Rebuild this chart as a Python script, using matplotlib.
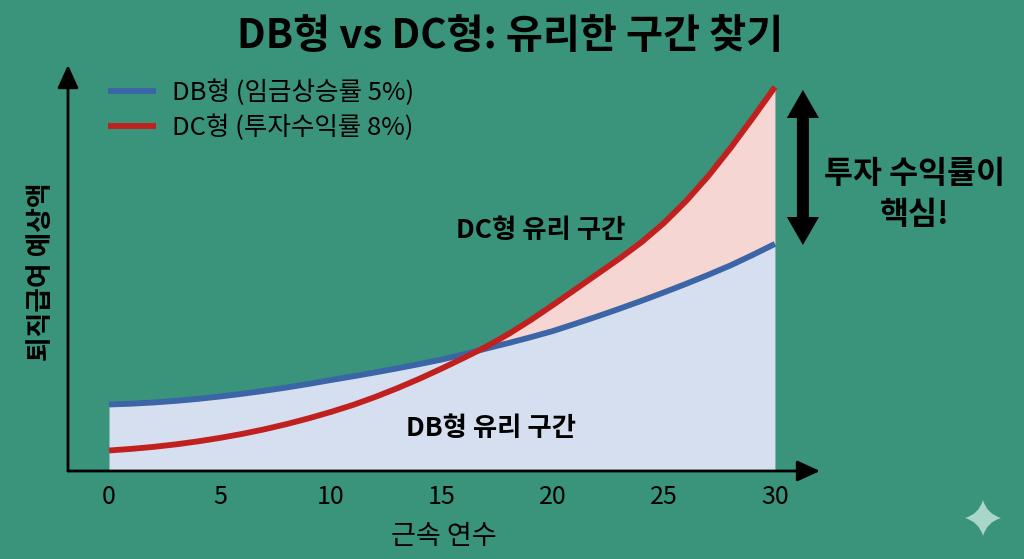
import matplotlib
matplotlib.use('Agg')
import matplotlib.pyplot as plt
from matplotlib.patches import FancyArrow, PathPatch
from matplotlib.path import Path
from matplotlib.transforms import IdentityTransform
import numpy as np

plt.rcParams['font.family'] = ['Noto Sans CJK KR', 'DejaVu Sans']

years = list(range(31))
# values (relative units, the chart has no y scale)
db_values = [66.5, 67.3, 68.5, 70.1, 72.1, 74.5, 77.2, 80.2, 83.5, 87.1, 91,
             94.7, 98.6, 102.7, 107, 111.5, 116.8, 122.5, 128, 133.8, 140,
             147.2, 154.6, 162.3, 170.3, 178.6, 187.2, 196.2, 205.6, 216.1, 227.1]
dc_values = [20.5, 22.1, 24.1, 26.6, 29.6, 33.1, 37.1, 41.7, 46.9, 52.7, 59.1,
             66.1, 74.1, 82.9, 92.4, 102.6, 113.3, 124.4, 137, 151, 166,
             181.5, 197, 212.5, 229, 248, 270, 295, 323, 353, 384]
xticks = [0, 5, 10, 15, 20, 25, 30]

title = 'DB형 vs DC형: 유리한 구간 찾기'
db_label = 'DB형 (임금상승률 5%)'
dc_label = 'DC형 (투자수익률 8%)'

BG = '#3a937b'
BLUE = '#3b65a6'
RED = '#c0211f'

fig = plt.figure(figsize=(10.24, 5.59), dpi=100, facecolor=BG)
ax = fig.add_axes([68 / 1024, (559 - 471) / 559, (820 - 68) / 1024, (471 - 65) / 559])
ax.set_facecolor('none')
ax.set_xlim(-1.847, 32.03)
ax.set_ylim(0, 406)

x = np.array(years)
db = np.array(db_values)
dc = np.array(dc_values)

# shaded zones
ax.fill_between(x, 0, db, color='#d5dff0', lw=0)
ax.fill_between(x, db, dc, where=dc > db, interpolate=True, color='#f6d6d2', lw=0)

ax.plot(x, db, color=BLUE, lw=4.2, label=db_label, solid_capstyle='butt')
ax.plot(x, dc, color=RED, lw=4.2, label=dc_label, solid_capstyle='butt')

# axes with arrow heads
for s in ax.spines.values():
    s.set_visible(False)
ax.annotate('', xy=(1, 0), xytext=(0, 0), xycoords='axes fraction', textcoords='axes fraction',
            arrowprops=dict(arrowstyle='-|>,head_length=0.7,head_width=0.32', color='black', lw=2,
                            mutation_scale=20, shrinkA=0, shrinkB=0))
ax.annotate('', xy=(0, 1), xytext=(0, 0), xycoords='axes fraction', textcoords='axes fraction',
            arrowprops=dict(arrowstyle='-|>,head_length=0.7,head_width=0.32', color='black', lw=2,
                            mutation_scale=20, shrinkA=0, shrinkB=0))

ax.set_xticks(xticks)
ax.set_yticks([])
ax.tick_params(axis='x', length=0, pad=9, labelsize=18)
ax.set_xlabel('근속 연수', fontsize=19.5, fontweight='medium', labelpad=10)
ax.set_ylabel('퇴직급여 예상액', fontsize=19.3, fontweight='bold', labelpad=9, y=0.49)

fig.text(510 / 1024, 1 - 36 / 559, title, fontsize=29, fontweight='bold', ha='center', va='center')

ax.legend(loc='upper left', bbox_to_anchor=(0.0395, 0.99), frameon=False, fontsize=18.4,
          handlelength=1.9, handletextpad=0.6, labelspacing=0.35, borderaxespad=0)

ax.text(19.46, 240, 'DC형 유리 구간', fontsize=19, fontweight='bold', ha='center', va='center')
ax.text(17.2, 42, 'DB형 유리 구간', fontsize=19, fontweight='bold', ha='center', va='center')

# double arrow on the right
for y0, dy in [(304, 77), (304, -78)]:
    ax.add_patch(FancyArrow(31.26, y0, 0, dy, width=0.54, head_width=1.45, head_length=28,
                            length_includes_head=True, color='black', lw=0, clip_on=False))
ax.text(36.3, 297, '투자 수익률이', fontsize=22.7, fontweight='bold', ha='center', va='center')
ax.text(36.3, 256, '핵심!', fontsize=22.7, fontweight='bold', ha='center', va='center')

# sparkle mark bottom right
cx, cy, r, k = 983, 559 - 518, 18, 4
verts = [(cx, cy + r), (cx + k, cy + k), (cx + r, cy), (cx + k, cy - k), (cx, cy - r),
         (cx - k, cy - k), (cx - r, cy), (cx - k, cy + k), (cx, cy + r)]
codes = [Path.MOVETO] + [Path.CURVE3] * 8
fig.add_artist(PathPatch(Path(verts, codes), facecolor='#a9d6c8', edgecolor='none',
                         transform=IdentityTransform()))

fig.savefig('out.png', dpi=100, facecolor=BG)
